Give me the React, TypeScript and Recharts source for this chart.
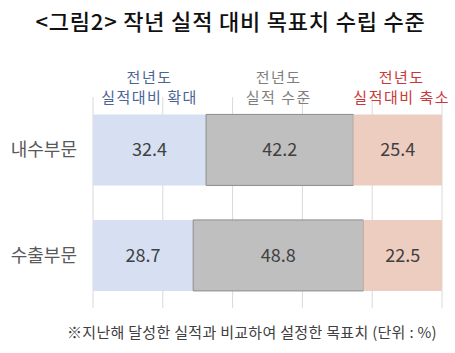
import React from "react";
import { BarChart, Bar, XAxis, YAxis, CartesianGrid, LabelList } from "recharts";

const categories = ["내수부문", "수출부문"];
const expand = [32.4, 28.7];
const same = [42.2, 48.8];
const shrink = [25.4, 22.5];
const xTicks = [0, 20, 40, 60, 80, 100];
const title = "<그림2> 작년 실적 대비 목표치 수립 수준";
const note = "※지난해 달성한 실적과 비교하여 설정한 목표치 (단위 : %)";
const headers = [
  ["전년도", "실적대비 확대"],
  ["전년도", "실적 수준"],
  ["전년도", "실적대비 축소"],
];

const data = categories.map((c, i) => ({
  name: c,
  expand: expand[i],
  same: same[i],
  shrink: shrink[i],
}));

const FONT = "'Noto Sans CJK KR', 'Noto Sans', sans-serif";
const headerColors = ["#4A6496", "#7F7F7F", "#C8393B"];
const headerShift = [0, -1, 4];

const makeHeader = (k: number) => (props: any) => {
  const { x, y, width, index } = props;
  if (index !== 0) return null;
  const cx = Number(x) + Number(width) / 2 + headerShift[k];
  const top = Number(y);
  return (
    <g>
      <text x={cx} y={top - 37.5} textAnchor="middle" dominantBaseline="central" fill={headerColors[k]} fontSize={15} letterSpacing={1.5} fontFamily={FONT}>
        {headers[k][0]}
      </text>
      <text x={cx} y={top - 18} textAnchor="middle" dominantBaseline="central" fill={headerColors[k]} fontSize={15} letterSpacing={1.5} fontFamily={FONT}>
        {headers[k][1]}
      </text>
    </g>
  );
};

const valueLabel = { fill: "#404040", fontSize: 18, fontFamily: FONT };

export default function App() {
  return (
    <div style={{ position: "absolute", left: 0, top: 0, width: 455, height: 353, background: "#fff" }}>
      <svg width={455} height={353} style={{ position: "absolute", left: 0, top: 0 }}>
        <text x={230.5} y={20} textAnchor="middle" dominantBaseline="central" fontSize={22} letterSpacing={0.8} fontWeight={500} fill="#111" fontFamily={FONT}>
          {title}
        </text>
        <text x={437} y={331} textAnchor="end" dominantBaseline="central" fontSize={15} letterSpacing={0.3} fill="#404040" fontFamily={FONT}>
          {note}
        </text>
      </svg>
      <div style={{ position: "absolute", left: 0, top: 0 }}>
        <BarChart
          width={455}
          height={353}
          data={data}
          layout="vertical"
          margin={{ top: 97, right: 13, bottom: 45, left: 0 }}
          barCategoryGap="16.5%"
        >
          <CartesianGrid horizontal={false} stroke="#D9D9D9" />
          <XAxis type="number" domain={[0, 100]} ticks={xTicks} hide />
          <YAxis
            type="category"
            dataKey="name"
            width={93}
            axisLine={false}
            tickLine={false}
            tickSize={0}
            tickMargin={16}
            tick={{ fill: "#595959", fontSize: 18, fontFamily: FONT }}
          />
          <Bar dataKey="expand" stackId="a" fill="#D6E0F2" isAnimationActive={false}>
            <LabelList dataKey="expand" position="center" style={valueLabel} />
            <LabelList dataKey="expand" content={makeHeader(0)} />
          </Bar>
          <Bar dataKey="same" stackId="a" fill="#BFBFBF" stroke="#8C8C8C" strokeWidth={1} isAnimationActive={false}>
            <LabelList dataKey="same" position="center" style={valueLabel} />
            <LabelList dataKey="same" content={makeHeader(1)} />
          </Bar>
          <Bar dataKey="shrink" stackId="a" fill="#EDCDBF" isAnimationActive={false}>
            <LabelList dataKey="shrink" position="center" style={valueLabel} />
            <LabelList dataKey="shrink" content={makeHeader(2)} />
          </Bar>
        </BarChart>
      </div>
    </div>
  );
}
